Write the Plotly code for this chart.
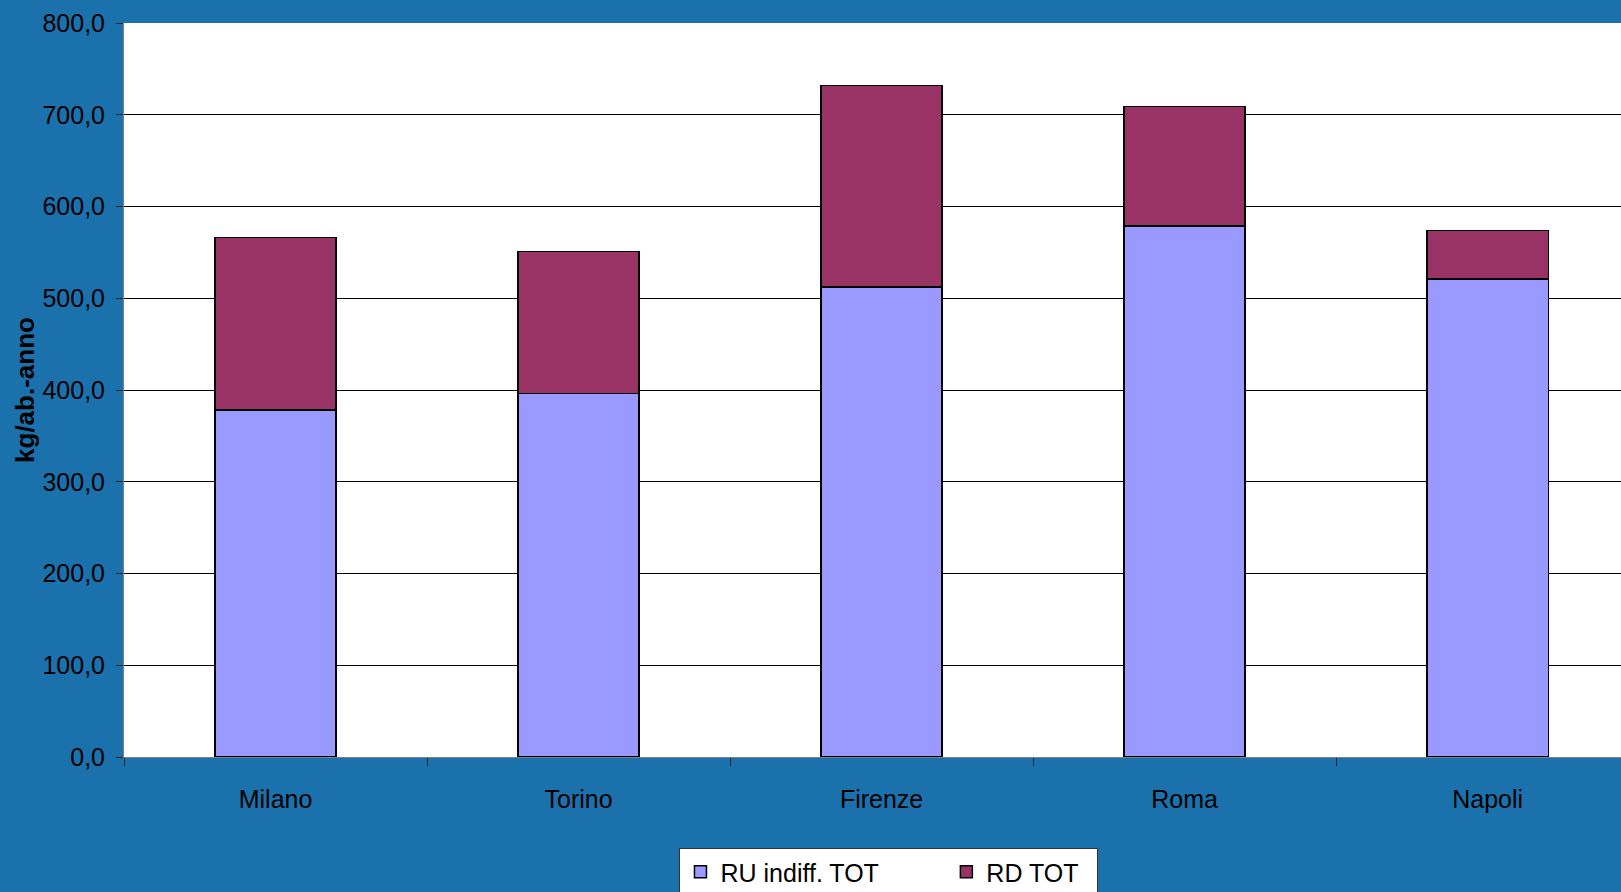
import plotly.graph_objects as go

cities = ["Milano", "Torino", "Firenze", "Roma", "Napoli"]
ru_indiff = [378, 396, 512, 579, 521]
rd_tot = [188, 155, 220, 130, 53]
series_names = ["RU indiff. TOT", "RD TOT"]
y_title = "kg/ab.-anno"

BG = "#1B71AB"
FONT = "Liberation Sans Narrow, Arial Narrow, Liberation Sans, sans-serif"

fig = go.Figure()
fig.add_trace(go.Bar(x=cities, y=ru_indiff, name=series_names[0] + "\u00a0" * 9, width=0.4,
                     marker=dict(color="#9999FF", line=dict(color="black", width=1.5))))
fig.add_trace(go.Bar(x=cities, y=rd_tot, name=series_names[1] + "\u00a0" * 2, width=0.4,
                     marker=dict(color="#993366", line=dict(color="black", width=1.5))))

fig.update_layout(
    barmode="stack",
    width=1621, height=892,
    paper_bgcolor=BG, plot_bgcolor="white",
    margin=dict(l=124, r=0, t=23, b=135, autoexpand=False),
    separators=",.",
    font=dict(family=FONT, size=25, color="black"),
    showlegend=True,
    legend=dict(orientation="h", x=0.511, xanchor="center", y=-0.124, yanchor="top",
                bgcolor="white", bordercolor="#333333", borderwidth=1,
                font=dict(family=FONT, size=25, color="black"),
                traceorder="normal"),
    xaxis=dict(range=[-0.5, 4.44], showgrid=False, showline=True, linecolor="#808080", linewidth=1,
               ticks="outside", tickson="boundaries", ticklen=8, tickcolor="#222222",
               ticklabelstandoff=20, tickfont=dict(family=FONT, size=25)),
    yaxis=dict(range=[0, 800], dtick=100, tickformat=".1f", showgrid=True, gridcolor="black", gridwidth=1,
               showline=True, linecolor="#808080", linewidth=1, ticks="outside", ticklen=7,
               tickcolor="#222222", zeroline=False, ticklabelstandoff=6,
               tickfont=dict(family=FONT, size=25),
               title=dict(text="<b>" + y_title + "</b>", standoff=0,
                          font=dict(family="Liberation Sans, Arial, sans-serif", size=26))),
)

fig.write_html("out.html", config={"displayModeBar": False},
               post_script="document.body.style.margin='0';document.body.style.overflow='hidden';")
